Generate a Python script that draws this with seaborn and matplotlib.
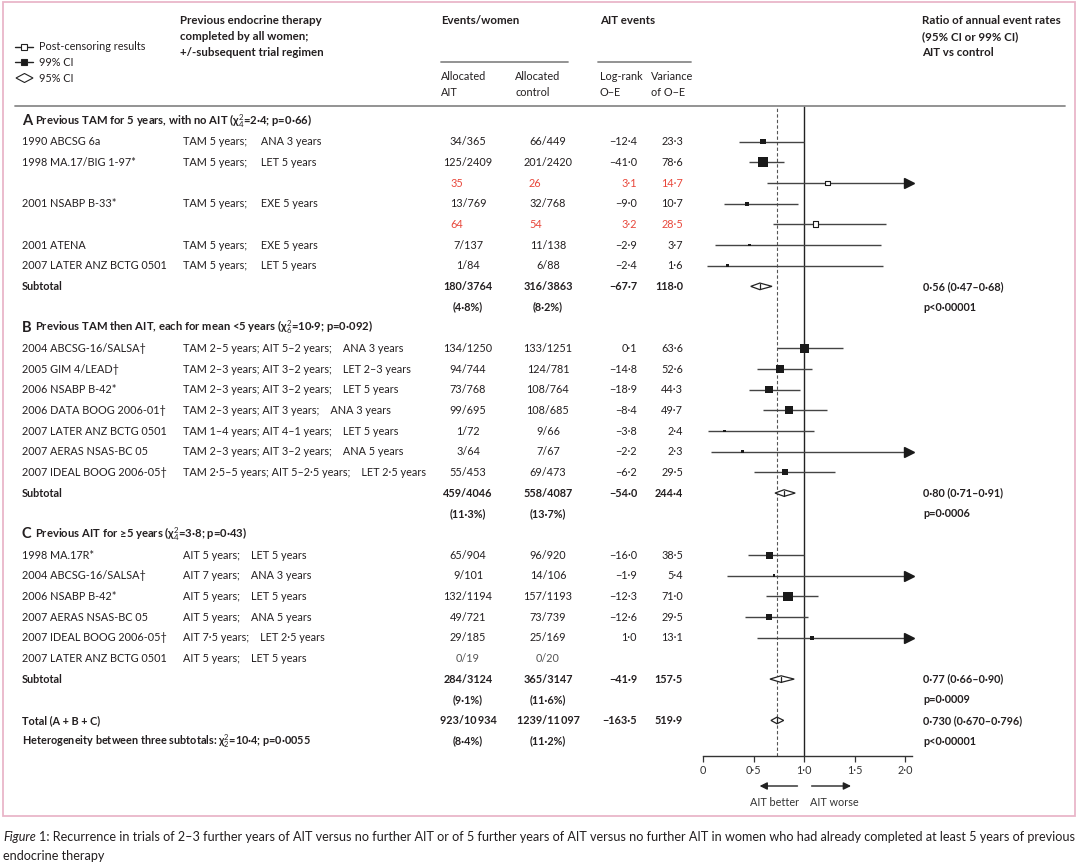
import numpy as np
import pandas as pd
import seaborn as sns
import matplotlib.pyplot as plt
from matplotlib.transforms import blended_transform_factory
from matplotlib.lines import Line2D
from matplotlib.patches import Rectangle, Polygon

# ---- table data, one entry per row (top to bottom) ----
row_kind = (['head'] + ['trial', 'trial', 'post', 'trial', 'post', 'trial', 'trial'] + ['sub', 'pct']
            + ['head'] + ['trial'] * 7 + ['sub', 'pct']
            + ['head'] + ['trial'] * 6 + ['sub', 'pct']
            + ['total', 'het'])

trial_name = ['', '1990 ABCSG 6a', '1998 MA.17/BIG 1-97*', '', '2001 NSABP B-33*', '', '2001 ATENA',
              '2007 LATER ANZ BCTG 0501', 'Subtotal', '',
              '', '2004 ABCSG-16/SALSA†', '2005 GIM 4/LEAD†', '2006 NSABP B-42*', '2006 DATA BOOG 2006-01†',
              '2007 LATER ANZ BCTG 0501', '2007 AERAS NSAS-BC 05', '2007 IDEAL BOOG 2006-05†', 'Subtotal', '',
              '', '1998 MA.17R*', '2004 ABCSG-16/SALSA†', '2006 NSABP B-42*', '2007 AERAS NSAS-BC 05',
              '2007 IDEAL BOOG 2006-05†', '2007 LATER ANZ BCTG 0501', 'Subtotal', '',
              'Total (A + B + C)', 'Heterogeneity between three subtotals: χ$^2_2$=10·4; p=0·0055']

regimen = ['', 'TAM 5 years;     ANA 3 years', 'TAM 5 years;     LET 5 years', '', 'TAM 5 years;     EXE 5 years', '',
           'TAM 5 years;     EXE 5 years', 'TAM 5 years;     LET 5 years', '', '',
           '', 'TAM 2–5 years; AIT 5–2 years;    ANA 3 years', 'TAM 2–3 years; AIT 3–2 years;    LET 2–3 years',
           'TAM 2–3 years; AIT 3–2 years;    LET 5 years', 'TAM 2–3 years; AIT 3 years;    ANA 3 years',
           'TAM 1–4 years; AIT 4–1 years;    LET 5 years', 'TAM 2–3 years; AIT 3–2 years;    ANA 5 years',
           'TAM 2·5–5 years; AIT 5–2·5 years;    LET 2·5 years', '', '',
           '', 'AIT 5 years;    LET 5 years', 'AIT 7 years;    ANA 3 years', 'AIT 5 years;    LET 5 years',
           'AIT 5 years;    ANA 5 years', 'AIT 7·5 years;    LET 2·5 years', 'AIT 5 years;    LET 5 years', '', '',
           '', '']

ait_events = ['', '34/365', '125/2409', '35', '13/769', '64', '7/137', '1/84', '180/3764', '(4·8%)',
              '', '134/1250', '94/744', '73/768', '99/695', '1/72', '3/64', '55/453', '459/4046', '(11·3%)',
              '', '65/904', '9/101', '132/1194', '49/721', '29/185', '0/19', '284/3124', '(9·1%)',
              '923/10\u2009934', '(8·4%)']

ctrl_events = ['', '66/449', '201/2420', '26', '32/768', '54', '11/138', '6/88', '316/3863', '(8·2%)',
               '', '133/1251', '124/781', '108/764', '108/685', '9/66', '7/67', '69/473', '558/4087', '(13·7%)',
               '', '96/920', '14/106', '157/1193', '73/739', '25/169', '0/20', '365/3147', '(11·6%)',
               '1239/11\u2009097', '(11·2%)']

nan, inf = np.nan, np.inf
log_rank = [nan, -12.4, -41.0, 3.1, -9.0, 3.2, -2.9, -2.4, -67.7, nan,
            nan, 0.1, -14.8, -18.9, -8.4, -3.8, -2.2, -6.2, -54.0, nan,
            nan, -16.0, -1.9, -12.3, -12.6, 1.0, nan, -41.9, nan,
            -163.5, nan]
variance = [nan, 23.3, 78.6, 14.7, 10.7, 28.5, 3.7, 1.6, 118.0, nan,
            nan, 63.6, 52.6, 44.3, 49.7, 2.4, 2.3, 29.5, 244.4, nan,
            nan, 38.5, 5.4, 71.0, 29.5, 13.1, nan, 157.5, nan,
            519.9, nan]

# ratio of annual event rates and CI (inf = runs off the scale)
ratio = [nan, 0.59, 0.59, 1.23, 0.43, 1.11, 0.46, 0.24, 0.56, nan,
         nan, 1.00, 0.76, 0.65, 0.85, 0.21, 0.39, 0.81, 0.80, nan,
         nan, 0.66, 0.70, 0.84, 0.65, 1.08, nan, 0.77, nan,
         0.73, nan]
ci_low = [nan, 0.35, 0.45, 0.63, 0.20, 0.69, 0.12, 0.04, 0.47, nan,
          nan, 0.73, 0.535, 0.45, 0.59, 0.05, 0.08, 0.505, 0.71, nan,
          nan, 0.44, 0.23, 0.62, 0.41, 0.53, nan, 0.66, nan,
          0.67, nan]
ci_high = [nan, 1.00, 0.80, inf, 0.94, 1.81, 1.76, 1.78, 0.68, nan,
           nan, 1.38, 1.08, 0.96, 1.22, 1.10, inf, 1.30, 0.91, nan,
           nan, 1.00, inf, 1.14, 1.04, inf, nan, 0.90, nan,
           0.796, nan]

ratio_text = {8: '0·56 (0·47–0·68)', 9: 'p<0·00001', 18: '0·80 (0·71–0·91)', 19: 'p=0·0006',
              27: '0·77 (0·66–0·90)', 28: 'p=0·0009', 29: '0·730 (0·670–0·796)', 30: 'p<0·00001'}

section_heads = {0: ('A', 'Previous TAM for 5 years, with no AIT (χ$^2_4$=2·4; p=0·66)'),
                 10: ('B', 'Previous TAM then AIT, each for mean <5 years (χ$^2_6$=10·9; p=0·092)'),
                 20: ('C', 'Previous AIT for ≥5 years (χ$^2_4$=3·8; p=0·43)')}

tick_values = [0, 0.5, 1.0, 1.5, 2.0]
tick_labels = ['0', '0·5', '1·0', '1·5', '2·0']

df = pd.DataFrame({'kind': row_kind, 'name': trial_name, 'regimen': regimen,
                   'ait': ait_events, 'ctrl': ctrl_events, 'oe': log_rank, 'var': variance,
                   'ratio': ratio, 'lo': ci_low, 'hi': ci_high})
df['row'] = np.arange(len(df))


def num(v):
    return f'{v:.1f}'.replace('.', '·').replace('-', '−')


# ---- figure setup ----
sns.set_theme(style='white')
plt.rcParams['font.family'] = ['Lato', 'DejaVu Sans']
plt.rcParams['mathtext.fontset'] = 'custom'
plt.rcParams['mathtext.rm'] = 'Lato'
plt.rcParams['mathtext.it'] = 'Lato:italic'
plt.rcParams['mathtext.bf'] = 'Lato:bold'

W, H = 1080, 864
INK = '#231f20'
RED = '#e8473b'
GREY = '#444444'
FS = 7.8
HFS = 8.3
fig = plt.figure(figsize=(W / 100, H / 100), dpi=100)

# forest axes: x in ratio units, y in table rows
row0_px, row_step = 121, 20.67
top_px, bot_px = 106, 756
x0_px, px_unit, xmax = 703.3, 101.0, 2.07
ax = fig.add_axes([x0_px / W, 1 - bot_px / H, xmax * px_unit / W, (bot_px - top_px) / H])
ax.set_facecolor('none')

trials = df[df.kind.isin(['trial', 'post'])].dropna(subset=['ratio']).copy()
trials['area'] = trials['var'].clip(lower=5)

ax.hlines(trials.row, trials.lo, trials.hi.clip(upper=2.0), color=GREY, lw=1.0, zorder=2)
off = trials[np.isinf(trials.hi)]
ax.plot(np.full(len(off), 2.035), off.row, ls='none', marker='>', ms=6.5, color='#1a1a1a',
        clip_on=False, zorder=3)

sns.scatterplot(data=trials[trials.kind == 'trial'], x='ratio', y='row', size='area',
                size_norm=(0, 100), sizes=(0, 66), marker='s', color='#1a1a1a', linewidth=0,
                legend=False, ax=ax, zorder=4)
sns.scatterplot(data=trials[trials.kind == 'post'], x='ratio', y='row', size='area',
                size_norm=(0, 100), sizes=(0, 60), marker='s', color='white', edgecolor='#1a1a1a',
                linewidth=0.8, legend=False, ax=ax, zorder=4)

for _, r in df[df.kind.isin(['sub', 'total'])].iterrows():
    h = 0.16
    ax.fill([r.lo, r.ratio, r.hi, r.ratio], [r.row, r.row - h, r.row, r.row + h],
            facecolor='white', edgecolor='#222222', lw=0.9, zorder=4)
    ax.plot([r.ratio, r.ratio], [r.row - h * 0.75, r.row + h * 0.75], color='#222222', lw=0.9, zorder=5)

total_ratio = df.loc[df.kind == 'total', 'ratio'].iloc[0]
ax.axvline(1.0, color='#222222', lw=1.0, zorder=1)
ax.axvline(total_ratio, color='#555555', lw=0.8, ls=(0, (3, 2)), zorder=1)

ax.set_xlim(0, xmax)
ax.set_ylim((bot_px - row0_px) / row_step, (top_px - row0_px) / row_step)
ax.set_xticks(tick_values)
ax.set_xticklabels(tick_labels)
ax.set_yticks([])
ax.set_xlabel('')
ax.set_ylabel('')
for s in ['left', 'top', 'right']:
    ax.spines[s].set_visible(False)
ax.spines['bottom'].set_color('#333333')
ax.spines['bottom'].set_linewidth(1.0)
ax.tick_params(axis='x', bottom=True, direction='out', length=4.5, width=0.9, pad=2,
               labelsize=FS, colors='#333333')

# ---- text ----
tx = blended_transform_factory(fig.transFigure, ax.transData)
renderer = fig.canvas.get_renderer()


def put(px, row, s, **kw):
    kw.setdefault('va', 'center')
    kw.setdefault('fontsize', FS)
    kw.setdefault('color', INK)
    return fig.text(px / W, row, s, transform=tx, **kw)


def fput(px, py, s, **kw):
    kw.setdefault('va', 'center')
    kw.setdefault('fontsize', FS)
    kw.setdefault('color', INK)
    return fig.text(px / W, 1 - py / H, s, transform=fig.transFigure, **kw)


def width_px(t):
    return t.get_window_extent(renderer).width


for _, r in df.iterrows():
    i, k = r.row, r.kind
    bold = 'bold' if k in ('sub', 'pct', 'total', 'het') else 'normal'
    col = RED if k == 'post' else INK
    if r['name']:
        put(22, i, r['name'], fontweight=bold)
    if r.regimen:
        put(183, i, r.regimen)
    if k == 'post':
        put(450, i, r.ait, color=col)
        put(529, i, r.ctrl, color=col)
    else:
        if r.ait:
            put(468, i, r.ait, ha='center', fontweight=bold, color='#555555' if r.ait == '0/19' else INK)
        if r.ctrl:
            put(548, i, r.ctrl, ha='center', fontweight=bold, color='#555555' if r.ctrl == '0/20' else INK)
    if not np.isnan(r.oe):
        put(637, i, num(r.oe), ha='right', fontweight=bold, color=col)
    if not np.isnan(r['var']):
        put(683, i, num(r['var']), ha='right', fontweight=bold, color=col)

for i, s in ratio_text.items():
    put(923, i, s, fontweight='bold')

for i, (letter, text) in section_heads.items():
    t = put(22, i, letter, fontsize=10.5, fontweight='bold')
    put(22 + width_px(t) + 3, i, text, fontweight='bold', fontsize=8.1)

# header
fput(180, 21, 'Previous endocrine therapy', fontweight='bold', fontsize=HFS)
fput(180, 37, 'completed by all women;', fontweight='bold', fontsize=HFS)
fput(180, 53, '+/-subsequent trial regimen', fontweight='bold', fontsize=HFS)
fput(441, 21, 'Events/women', fontweight='bold', fontsize=HFS)
fput(600, 21, 'AIT events', fontweight='bold', fontsize=HFS)
for px, a, b in [(441, 'Allocated', 'AIT'), (515, 'Allocated', 'control'),
                 (600, 'Log-rank', 'O−E'), (651, 'Variance', 'of O−E')]:
    fput(px, 76, a)
    fput(px, 92, b)
fput(922, 21, 'Ratio of annual event rates', fontweight='bold', fontsize=HFS)
fput(922, 37, '(95% CI or 99% CI)', fontweight='bold', fontsize=HFS)
fput(922, 53, 'AIT vs control', fontweight='bold', fontsize=HFS)

# legend
fput(39, 47, 'Post-censoring results')
fput(39, 62, '99% CI')
fput(39, 78, '95% CI')
for py, face in [(47, 'white'), (62, '#1a1a1a')]:
    yy = 1 - py / H
    fig.add_artist(Line2D([15 / W, 33 / W], [yy, yy], transform=fig.transFigure, color='#222222', lw=1.0))
    fig.add_artist(Line2D([24 / W], [yy], transform=fig.transFigure, marker='s', ms=5,
                          mfc=face, mec='#222222', mew=0.8))
yy = 1 - 78 / H
fig.add_artist(Polygon([(16 / W, yy), (24.5 / W, yy + 4.5 / H), (33 / W, yy), (24.5 / W, yy - 4.5 / H)],
                       closed=True, transform=fig.transFigure, fc='white', ec='#222222', lw=0.8))

# rules
for x1, x2, py in [(15, 1065, 106), (441, 568, 62), (598, 691, 62)]:
    fig.add_artist(Line2D([x1 / W, x2 / W], [1 - py / H] * 2, transform=fig.transFigure,
                          color='#8a8a8a', lw=1.3))
fig.add_artist(Rectangle((3 / W, 1 - 816 / H), 1072 / W, 814 / H, transform=fig.transFigure,
                         fill=False, ec='#e9b6c9', lw=1.3))

# direction arrows under the axis
bx = blended_transform_factory(ax.transData, fig.transFigure)
ya = 1 - 786 / H
ax.annotate('', xy=(0.53, ya), xytext=(0.96, ya), xycoords=bx, textcoords=bx,
            arrowprops=dict(arrowstyle='-|>', mutation_scale=11, lw=1.0, color='#222222'), annotation_clip=False)
ax.annotate('', xy=(1.49, ya), xytext=(1.045, ya), xycoords=bx, textcoords=bx,
            arrowprops=dict(arrowstyle='-|>', mutation_scale=11, lw=1.0, color='#222222'), annotation_clip=False)
fput(775, 802, 'AIT better', ha='center', color='#333333')
fput(834, 802, 'AIT worse', ha='center', color='#333333')

# caption
CFS = 9.1
t = fput(3, 837, 'Figure', fontstyle='italic', fontsize=CFS)
fput(3 + width_px(t) + 3, 837, '1: Recurrence in trials of 2–3 further years of AIT versus no further AIT or of 5 further '
     'years of AIT versus no further AIT in women who had already completed at least 5 years of previous',
     fontsize=CFS)
fput(3, 856, 'endocrine therapy', fontsize=CFS)

fig.savefig('out.png', dpi=100)
